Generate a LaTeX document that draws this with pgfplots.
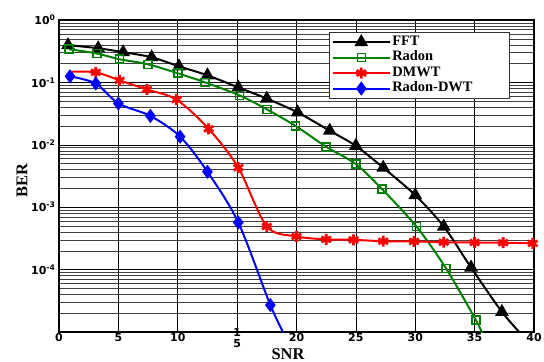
\documentclass[border=0pt]{standalone}
\usepackage{fontspec}
\setmainfont{Liberation Serif}
\newfontfamily\tickfont{DejaVu Sans}
\usepackage{pgfplots}
\pgfplotsset{compat=1.18}
\newcommand\legtxt[1]{\makebox[113bp][l]{#1}}
\begin{document}
\begin{tikzpicture}
\path[use as bounding box] (-59bp,-30bp) rectangle (485bp,332bp);
\begin{axis}[
  scale only axis, width=475bp, height=312bp,
  at={(0,0)}, anchor=south west,
  xmin=0, xmax=40, ymode=log, ymin=1e-5, ymax=1,
  xtick={0,5,...,40},
  xticklabels={0,5,10,{\raisebox{5bp}[\height][\depth]{\shortstack{1\\5}}},20,25,30,35,40},
  ytick={1e-5,1e-4,1e-3,1e-2,1e-1,1},
  yticklabels={,10\textsuperscript{-4},10\textsuperscript{-3},10\textsuperscript{-2},10\textsuperscript{-1},10\textsuperscript{0}},
  ticklabel style={font=\tickfont\bfseries\fontsize{11}{12}\selectfont},
  xticklabel style={inner sep=1.5pt},
  major tick length=0pt, minor tick length=0pt,
  grid=both,
  major grid style={black, line width=0.6pt},
  minor grid style={black!75, line width=0.5pt},
  axis line style={line width=1.5pt},
  xlabel={SNR}, ylabel={BER},
  label style={font=\fontsize{16.5}{16.5}\selectfont\bfseries},
  xlabel style={at={(axis description cs:0.482,-0.071)}, anchor=center, inner sep=0pt},
  ylabel style={at={(axis description cs:-0.078,0.485)}, anchor=center},
  legend style={at={(0.949,0.962)}, anchor=north east, draw=black!80, line width=1pt,
    font=\fontsize{14.5}{14.5}\selectfont\bfseries, cells={anchor=west}, row sep=0pt,
    inner xsep=3pt, inner ysep=2pt, nodes={inner sep=1pt, text height=10bp, text depth=3.5bp}},
  legend image code/.code={\draw[#1,mark indices={2}] plot coordinates {(0bp,0bp) (28bp,0bp) (57bp,0bp)};},
]
\addplot[black, line width=2pt, smooth, mark=triangle*, mark size=6bp, mark options={solid, fill=black},
  mark indices={1,2,3,4,5,6,7,8,9,10,11,12,13,14,15,16}] coordinates {
 (0.76,0.395) (3.3,0.353) (5.4,0.305) (7.8,0.253) (10.1,0.181) (12.5,0.13) (15.1,0.083)
 (17.5,0.055) (20.1,0.033) (22.8,0.0168) (25,0.0096) (27.3,0.0043) (30,0.00156)
 (32.4,4.9e-4) (34.7,1.08e-4) (37.3,2.1e-5) (39.1,8.5e-6)};
\addlegendentry{\legtxt{FFT}}
\addplot[green!50!black, line width=2pt, smooth, mark=square, mark size=4bp, mark options={solid, fill=white, line width=1.6pt},
  mark indices={1,2,3,4,5,6,7,8,9,10,11,12,13,14,15}] coordinates {
 (0.84,0.34) (3.2,0.29) (5.1,0.235) (7.5,0.195) (10,0.14) (12.3,0.1) (15.2,0.062)
 (17.5,0.037) (19.9,0.0202) (22.5,0.0093) (25,0.0049) (27.2,0.00195) (30.1,4.9e-4)
 (32.6,1.04e-4) (35.1,1.56e-5) (35.7,9e-6)};
\addlegendentry{\legtxt{Radon}}
\addplot[red, line width=2pt, smooth, mark=asterisk, mark size=5.5bp, mark options={solid, line width=2.8pt},
  mark indices={2,3,4,5,6,7,8,9,10,11,12,13,14,15,16,17}] coordinates {
 (1.1,0.148) (3.1,0.145) (5.1,0.108) (7.4,0.077) (9.9,0.053) (12.6,0.018) (15.1,0.0043)
 (17.5,4.9e-4) (20.0,3.4e-4) (22.5,3.05e-4) (24.8,3.0e-4) (27.3,2.85e-4) (29.9,2.83e-4)
 (32.4,2.75e-4) (35.0,2.72e-4) (37.4,2.7e-4) (39.9,2.63e-4)};
\addlegendentry{\legtxt{DMWT}}
\addplot[blue, line width=2pt, smooth, mark=diamond*, mark size=5.5bp, mark options={solid, fill=blue},
  mark indices={1,2,3,4,5,6,7,8}] coordinates {
 (0.93,0.125) (3.1,0.096) (5.0,0.046) (7.7,0.029) (10.2,0.0135) (12.5,0.0037)
 (15.1,5.7e-4) (17.8,2.7e-5) (19.2,7.5e-6)};
\addlegendentry{\legtxt{Radon-DWT}}
\end{axis}
\end{tikzpicture}
\end{document}
